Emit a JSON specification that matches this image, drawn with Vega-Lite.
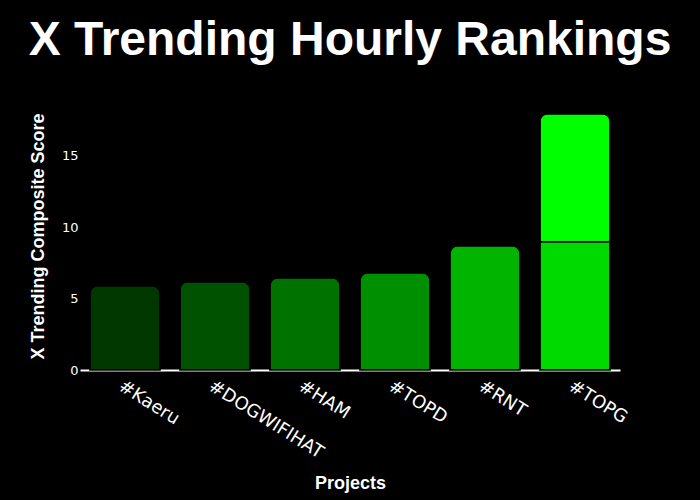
{
  "$schema": "https://vega.github.io/schema/vega-lite/v6.json",
  "width": 540,
  "height": 270,
  "autosize": {"type": "none"},
  "padding": {"left": 80, "top": 100, "right": 80, "bottom": 130},
  "background": "black",
  "title": {
    "text": "X Trending Hourly Rankings",
    "font": "Liberation Sans",
    "fontSize": 48,
    "fontWeight": "bold",
    "color": "white",
    "anchor": "middle",
    "baseline": "alphabetic",
    "offset": -3
  },
  "data": {
    "values": [
      {"project": "#Kaeru", "segment": "Kaeru", "part": 1, "value": 5.89},
      {"project": "#DOGWIFIHAT", "segment": "DOGWIFIHAT", "part": 1, "value": 6.17},
      {"project": "#HAM", "segment": "HAM", "part": 1, "value": 6.45},
      {"project": "#TOPD", "segment": "TOPD", "part": 1, "value": 6.8},
      {"project": "#RNT", "segment": "RNT", "part": 1, "value": 8.69},
      {"project": "#TOPG", "segment": "TOPG base", "part": 1, "value": 8.97},
      {"project": "#TOPG", "segment": "TOPG top", "part": 2, "value": 8.97}
    ]
  },
  "mark": {
    "type": "bar",
    "cornerRadiusTopLeft": 8,
    "cornerRadiusTopRight": 8,
    "stroke": "black",
    "strokeWidth": 1.5
  },
  "encoding": {
    "x": {
      "field": "project",
      "type": "nominal",
      "sort": null,
      "scale": {"paddingInner": 0.22, "paddingOuter": 0.11},
      "axis": {
        "title": "Projects",
        "titleColor": "white",
        "titleFont": "Liberation Sans",
        "titleFontSize": 18,
        "titleFontWeight": "bold",
        "titleY": 118,
        "titleBaseline": "alphabetic",
        "labelAngle": 32,
        "labelAlign": "left",
        "labelBaseline": "top",
        "labelPadding": 7,
        "labelColor": "white",
        "labelFont": "DejaVu Sans",
        "labelFontSize": 18,
        "ticks": false,
        "domainColor": "white",
        "domainWidth": 2
      }
    },
    "y": {
      "field": "value",
      "type": "quantitative",
      "stack": "zero",
      "scale": {"domain": [0, 18.9], "nice": false},
      "axis": {
        "title": "X Trending Composite Score",
        "titleColor": "white",
        "titleFont": "Liberation Sans",
        "titleFontSize": 18,
        "titleFontWeight": "bold",
        "titleX": -42,
        "titleY": 136,
        "titleAngle": -90,
        "titleAlign": "center",
        "titleBaseline": "middle",
        "values": [0, 5, 10, 15],
        "labelColor": "white",
        "labelFont": "DejaVu Sans",
        "labelFontSize": 13,
        "labelPadding": 2,
        "ticks": false,
        "domain": false,
        "grid": false
      }
    },
    "order": {"field": "part", "type": "quantitative"},
    "color": {
      "field": "segment",
      "type": "nominal",
      "legend": null,
      "scale": {
        "domain": ["Kaeru", "DOGWIFIHAT", "HAM", "TOPD", "RNT", "TOPG base", "TOPG top"],
        "range": ["#003800", "#005200", "#007200", "#008f00", "#00b400", "#00da00", "#00ff00"]
      }
    }
  },
  "config": {"view": {"stroke": null}}
}
